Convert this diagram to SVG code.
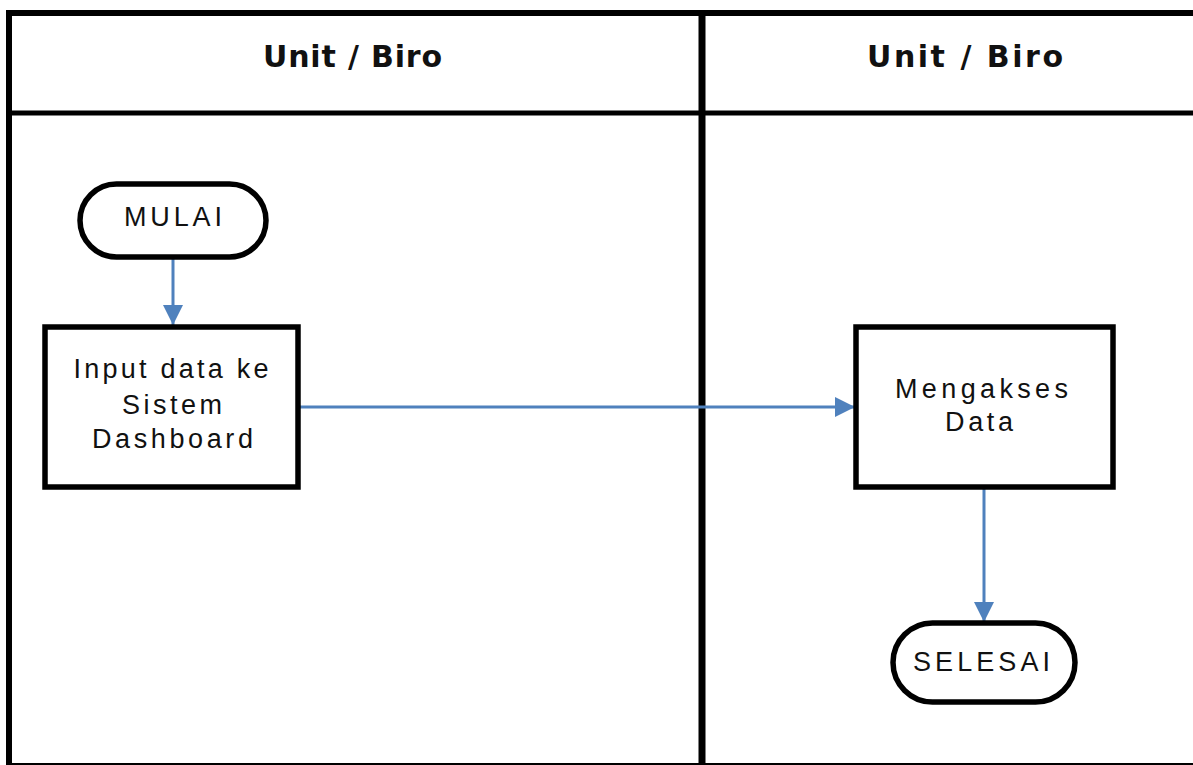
<svg xmlns="http://www.w3.org/2000/svg" width="1193" height="765" viewBox="0 0 1193 765">
  <defs>
    <style>
      .frame { stroke: #000; fill: none; }
      .node { fill: #fff; stroke: #000; stroke-width: 5.5; }
      .hdr { font-family: "DejaVu Sans", "Liberation Sans", sans-serif; font-weight: bold; font-size: 30px; fill: #111; text-anchor: middle; }
      .lbl { font-family: "Liberation Sans", Arial, sans-serif; font-size: 27px; fill: #111; text-anchor: middle; }
      .conn { stroke: #4F81BD; stroke-width: 3; fill: none; marker-end: url(#arrow); }
    </style>
    <marker id="arrow" viewBox="0 0 20 20" refX="20" refY="10" markerWidth="20" markerHeight="20" markerUnits="userSpaceOnUse" orient="auto">
      <path d="M0,0 L20,10 L0,20 z" fill="#4F81BD"/>
    </marker>
  </defs>
  <rect x="0" y="0" width="1193" height="765" fill="#fff"/>
  <g id="lanes">
    <line class="frame" x1="6" y1="13" x2="1193" y2="13" stroke-width="6"/>
    <line class="frame" x1="9" y1="10" x2="9" y2="765" stroke-width="6"/>
    <line class="frame" x1="9" y1="764" x2="1193" y2="764" stroke-width="2"/>
    <line class="frame" x1="9" y1="113" x2="1193" y2="113" stroke-width="5"/>
    <line class="frame" x1="702" y1="10" x2="702" y2="765" stroke-width="7"/>
    <text class="hdr" x="352.5" y="67" textLength="179" lengthAdjust="spacing">Unit / Biro</text>
    <text class="hdr" x="965" y="67" textLength="196" lengthAdjust="spacing">Unit / Biro</text>
  </g>
  <g id="connectors">
    <path class="conn" d="M173,258 L173,325"/>
    <path class="conn" d="M298,407 L855,407"/>
    <path class="conn" d="M984,487 L984,622"/>
  </g>
  <g id="mulai">
    <rect class="node" x="80" y="184" width="186" height="73" rx="36.5" ry="36.5"/>
    <text class="lbl" x="173" y="226" textLength="98" lengthAdjust="spacing">MULAI</text>
  </g>
  <g id="input">
    <rect class="node" x="45" y="327" width="253" height="160"/>
    <text class="lbl" x="171" y="378" textLength="195" lengthAdjust="spacing">Input data ke</text>
    <text class="lbl" x="172" y="414" textLength="100" lengthAdjust="spacing">Sistem</text>
    <text class="lbl" x="172.5" y="448" textLength="161" lengthAdjust="spacing">Dashboard</text>
  </g>
  <g id="akses">
    <rect class="node" x="856" y="327" width="257" height="160"/>
    <text class="lbl" x="981.5" y="398" textLength="173" lengthAdjust="spacing">Mengakses</text>
    <text class="lbl" x="979" y="431" textLength="68" lengthAdjust="spacing">Data</text>
  </g>
  <g id="selesai">
    <rect class="node" x="893" y="623" width="182" height="79" rx="39.5" ry="39.5"/>
    <text class="lbl" x="981.5" y="671" textLength="137" lengthAdjust="spacing">SELESAI</text>
  </g>
</svg>
